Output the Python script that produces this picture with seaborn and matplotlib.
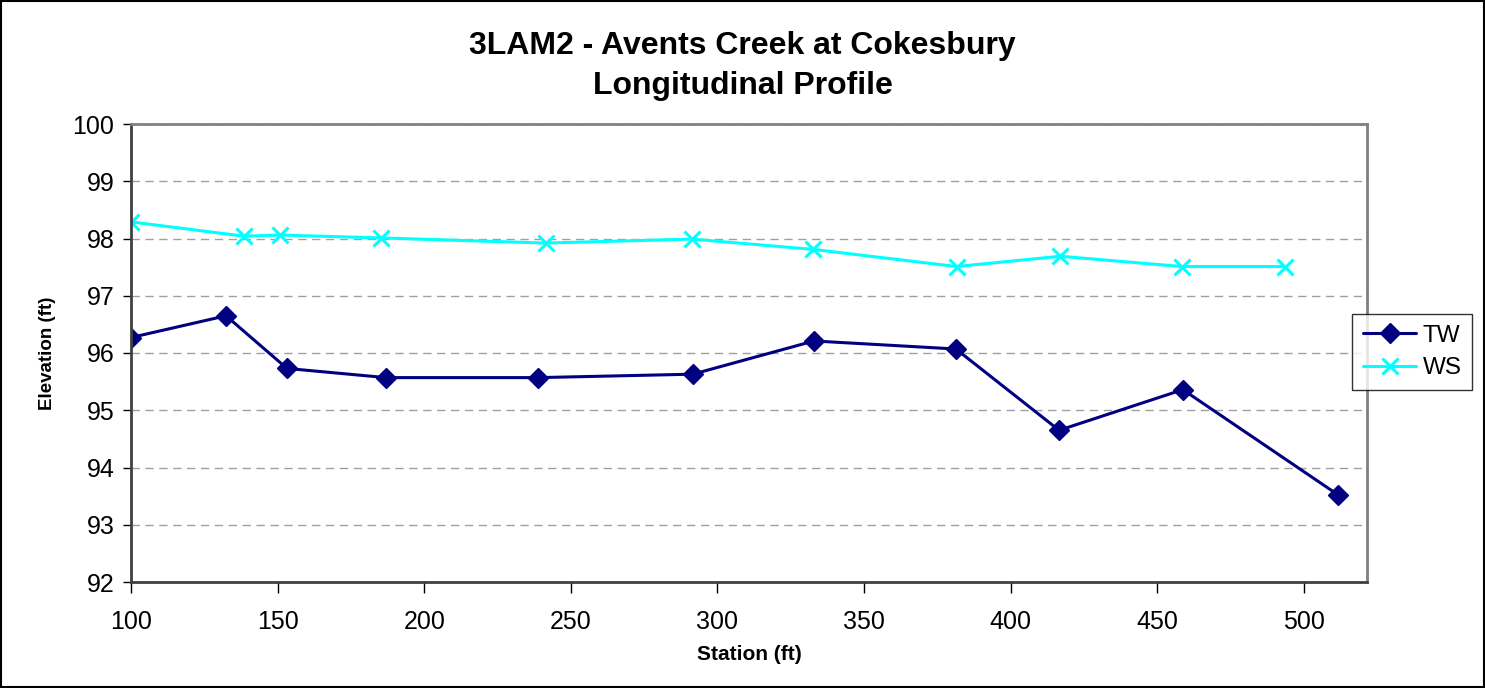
import matplotlib
matplotlib.use("Agg")
import matplotlib.pyplot as plt
import seaborn as sns
from matplotlib.patches import Rectangle

# data
tw_station = [100, 132.4, 153.2, 187, 238.9, 291.6, 332.9, 381.3, 416.5, 458.7, 511.7]
tw_elev = [96.27, 96.65, 95.73, 95.57, 95.57, 95.63, 96.21, 96.07, 94.65, 95.36, 93.52]
ws_station = [100, 138.7, 150.9, 185.4, 241.4, 291.2, 332.5, 381.6, 416.9, 458.4, 493.6]
ws_elev = [98.29, 98.04, 98.06, 98.01, 97.92, 97.99, 97.81, 97.51, 97.69, 97.51, 97.51]

x_ticks = [100, 150, 200, 250, 300, 350, 400, 450, 500]
y_ticks = [92, 93, 94, 95, 96, 97, 98, 99, 100]

sns.set_style("white", rc={'text.color': 'black', 'axes.labelcolor': 'black',
                           'xtick.color': 'black', 'ytick.color': 'black'})
plt.rcParams['font.family'] = ['Liberation Sans', 'DejaVu Sans']

fig = plt.figure(figsize=(14.85, 6.88), dpi=100)
ax = fig.add_axes([131/1485, 1-582/688, (1367-131)/1485, (582-124)/688])

sns.lineplot(x=tw_station, y=tw_elev, ax=ax, color='#000080', marker='D', markersize=10,
             markeredgecolor='#000080', markeredgewidth=1, linewidth=2.2, sort=False, label='TW')
sns.lineplot(x=ws_station, y=ws_elev, ax=ax, color='#00FFFF', marker='x', markersize=12,
             markeredgecolor='#00FFFF', markeredgewidth=2.2, linewidth=2.2, sort=False, label='WS')

ax.set_xlim(100, 521.5)
ax.set_ylim(92, 100)
ax.set_xticks(x_ticks)
ax.set_yticks(y_ticks)
ax.tick_params(axis='both', labelsize=18, direction='out', length=6, width=1, color='black',
               left=True, bottom=True)
ax.tick_params(axis='x', pad=12, length=8)
ax.tick_params(axis='y', pad=6)
ax.yaxis.grid(True, linestyle=(0, (6, 4)), color='#a0a0a0', linewidth=1)
ax.set_axisbelow(True)
for side in ['top', 'right']:
    ax.spines[side].set_color('#808080')
    ax.spines[side].set_linewidth(2)
for side in ['left', 'bottom']:
    ax.spines[side].set_color('#404040')
    ax.spines[side].set_linewidth(2)

ax.set_xlabel('Station (ft)', fontsize=15, fontweight='bold', labelpad=8)
ax.set_ylabel('Elevation (ft)', fontsize=13.5, fontweight='bold', labelpad=12)

fig.text(0.5, 1-46/688, '3LAM2 - Avents Creek at Cokesbury', ha='center', va='center',
         fontsize=23, fontweight='bold')
fig.text(0.5, 1-86/688, 'Longitudinal Profile', ha='center', va='center',
         fontsize=23, fontweight='bold')

leg = ax.legend(loc='center left', bbox_to_anchor=(1352/1485, 1-352/688),
                bbox_transform=fig.transFigure, fontsize=17.5, frameon=True, fancybox=False,
                edgecolor='black', borderpad=0.45, handlelength=2.2, borderaxespad=0,
                labelspacing=0.45, handletextpad=0.25)
leg.get_frame().set_linewidth(1)

fig.patches.append(Rectangle((0.001, 0.001), 0.998, 0.997, transform=fig.transFigure,
                             fill=False, edgecolor='black', linewidth=1.5))

fig.savefig('out.png', dpi=100)
